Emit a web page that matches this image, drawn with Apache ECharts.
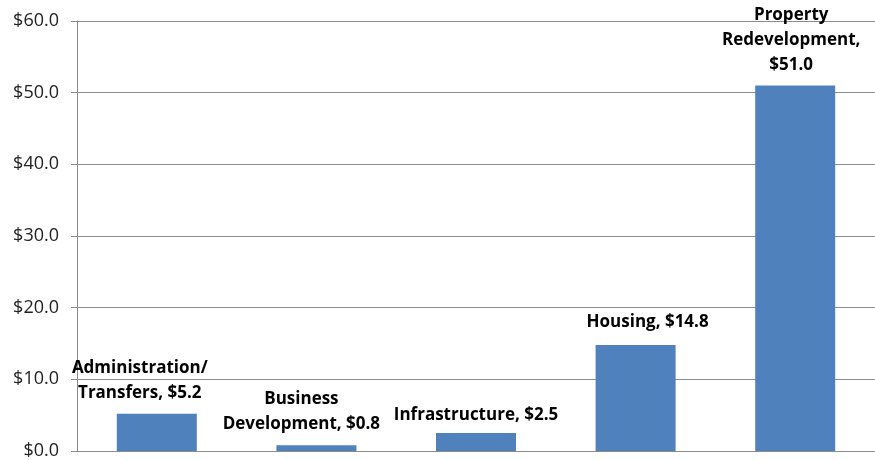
<!DOCTYPE html>
<html><head><meta charset="utf-8">
<script src="https://cdn.jsdelivr.net/npm/echarts@6/dist/echarts.min.js"></script>
<style>html,body{margin:0;padding:0;background:#fff}#c{width:875px;height:460px}</style>
</head><body><div id="c"></div>
<script>
const categories = ["Administration/Transfers", "Business Development", "Infrastructure", "Housing", "Property Redevelopment"];
const labelTexts = ["Administration/\nTransfers, $5.2", "Business\nDevelopment, $0.8", "Infrastructure, $2.5", "Housing, $14.8", "Property\nRedevelopment,\n$51.0"];
const values = [5.2, 0.8, 2.5, 14.8, 51.0];
const yTicks = [0, 10, 20, 30, 40, 50, 60];

// label placement tweaks (styling only)
const labelOffsets = [[-17, 1], [-15, 0], [0, 4], [12, -1], [-4, 1]];

const chart = echarts.init(document.getElementById('c'), null, {renderer: 'canvas'});
chart.setOption({
  animation: false,
  grid: {left: 77, top: 21, width: 803, bottom: 8, containLabel: false},
  xAxis: {
    type: 'category', data: categories,
    axisLine: {show: true, lineStyle: {color: '#8c8c8c', width: 1}},
    axisTick: {show: false}, axisLabel: {show: false}
  },
  yAxis: {
    type: 'value', min: yTicks[0], max: yTicks[yTicks.length - 1], interval: 10,
    axisLine: {show: true, lineStyle: {color: '#8c8c8c', width: 1}},
    axisTick: {show: true, length: 6, lineStyle: {color: '#8c8c8c'}},
    splitLine: {show: true, lineStyle: {color: '#8c8c8c', width: 1}},
    axisLabel: {
      formatter: v => '$' + v.toFixed(1), color: '#222', margin: 18,
      fontFamily: 'Open Sans', fontSize: 18
    }
  },
  series: [{
    type: 'bar', barWidth: 80,
    itemStyle: {color: '#4f81bd'},
    data: values.map((v, i) => ({
      value: v,
      label: {offset: labelOffsets[i], formatter: labelTexts[i]}
    })),
    label: {
      show: true, position: 'top', distance: 9,
      color: '#000', fontWeight: 'bold', fontFamily: 'Open Sans', fontSize: 17, lineHeight: 25,
      align: 'center'
    }
  }]
});
</script></body></html>
